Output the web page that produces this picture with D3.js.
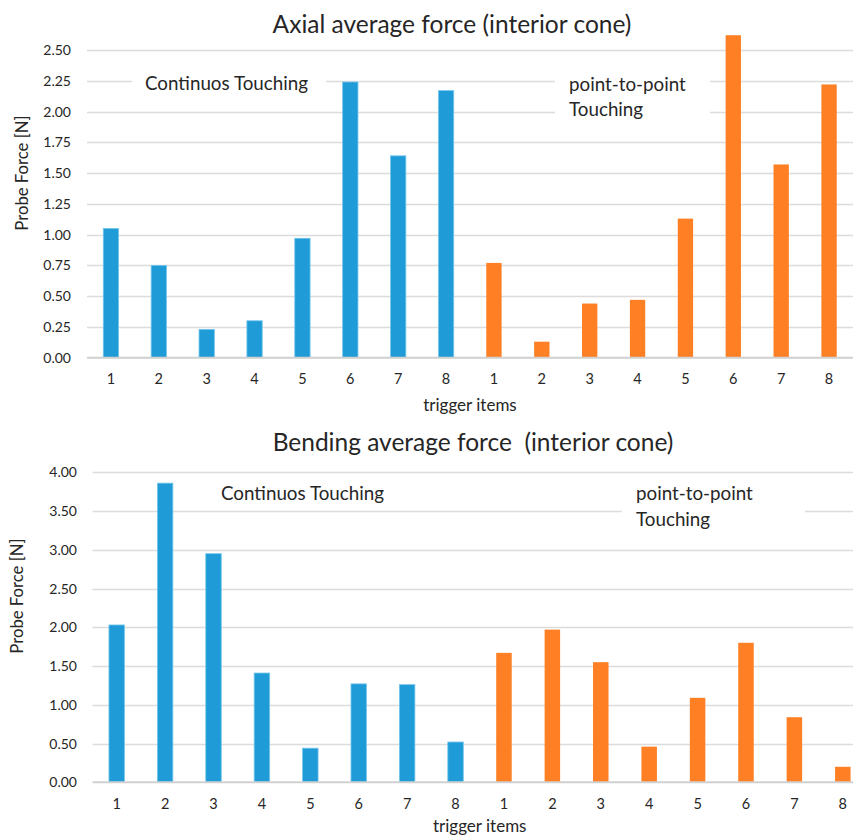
<!DOCTYPE html>
<html>
<head>
<meta charset="utf-8">
<script src="https://cdn.jsdelivr.net/npm/d3@7"></script>
<style>
  html, body { margin: 0; padding: 0; background: #fff; }
  svg text { font-family: Lato, "Open Sans", sans-serif; fill: #262626; white-space: pre; }
</style>
</head>
<body>
<svg id="chart" width="853" height="836"></svg>
<script>
// Trigger items, repeated for the two touching modes
const items = ["1", "2", "3", "4", "5", "6", "7", "8"];

// Axial average force [N]
const axialContinuous = [1.05, 0.75, 0.23, 0.30, 0.97, 2.24, 1.64, 2.17];
const axialPointToPoint = [0.77, 0.13, 0.44, 0.47, 1.13, 2.62, 1.57, 2.22];
const axialTicks = [0, 0.25, 0.5, 0.75, 1.0, 1.25, 1.5, 1.75, 2.0, 2.25, 2.5];

// Bending average force [N]
const bendingContinuous = [2.03, 3.86, 2.95, 1.41, 0.44, 1.27, 1.26, 0.52];
const bendingPointToPoint = [1.67, 1.97, 1.55, 0.46, 1.09, 1.80, 0.84, 0.20];
const bendingTicks = [0, 0.5, 1.0, 1.5, 2.0, 2.5, 3.0, 3.5, 4.0];

const BLUE = "#1f9bd7", BLUE_EDGE = "#74c6ec", ORANGE = "#fe7f24";
const GRID = "#dcdcdc", BASE = "#d0d0d0";

const svg = d3.select("#chart");

function drawPanel(cfg) {
  const g = svg.append("g");
  const rows = [
    ...cfg.continuous.map((v, i) => ({ key: "c" + i, label: items[i], value: v, mode: "c" })),
    ...cfg.pointToPoint.map((v, i) => ({ key: "p" + i, label: items[i], value: v, mode: "p" }))
  ];

  const x = d3.scaleBand()
    .domain(rows.map(d => d.key))
    .range(cfg.xRange)
    .paddingInner(0.68)
    .paddingOuter(0.34);
  const y = d3.scaleLinear().domain([0, cfg.yMax]).range(cfg.yRange);

  // horizontal gridlines
  g.append("g").selectAll("line")
    .data(cfg.ticks.filter(t => t > 0))
    .join("line")
    .attr("x1", cfg.xRange[0]).attr("x2", cfg.xRange[1])
    .attr("y1", d => Math.round(y(d)) + 0.5).attr("y2", d => Math.round(y(d)) + 0.5)
    .attr("stroke", GRID).attr("stroke-width", 1.3);

  // y tick labels
  const yAxis = d3.axisLeft(y).tickValues(cfg.ticks).tickFormat(d3.format(".2f")).tickSize(0).tickPadding(0);
  g.append("g")
    .attr("transform", `translate(${cfg.yLabelX},0)`)
    .call(yAxis)
    .call(a => a.select(".domain").remove())
    .call(a => a.selectAll("text").style("font-size", "14px").attr("fill", "#262626"));

  // annotation boxes (white backing masks the gridlines)
  cfg.notes.forEach(n => {
    g.append("rect")
      .attr("x", n.box[0]).attr("y", n.box[1])
      .attr("width", n.box[2]).attr("height", n.box[3])
      .attr("fill", "#fff");
    const t = g.append("text")
      .attr("x", n.x).attr("y", n.y)
      .style("font-size", "18.8px");
    n.lines.forEach((line, i) => {
      t.append("tspan").attr("x", n.x).attr("dy", i === 0 ? 0 : n.lh).text(line);
    });
  });

  // bars
  g.append("g").selectAll("rect")
    .data(rows)
    .join("rect")
    .attr("x", d => x(d.key))
    .attr("width", x.bandwidth())
    .attr("y", d => y(d.value))
    .attr("height", d => y(0) - y(d.value))
    .attr("fill", d => d.mode === "c" ? BLUE : ORANGE)
    .attr("stroke", d => d.mode === "c" ? BLUE_EDGE : "none")
    .attr("stroke-width", 0.8);

  // baseline
  g.append("line")
    .attr("x1", cfg.xRange[0]).attr("x2", cfg.xRange[1])
    .attr("y1", y(0)).attr("y2", y(0))
    .attr("stroke", BASE).attr("stroke-width", 2);

  // x tick labels
  const xAxis = d3.axisBottom(x).tickFormat(k => rows.find(r => r.key === k).label).tickSize(0).tickPadding(0);
  g.append("g")
    .attr("transform", `translate(0,${cfg.xLabelY})`)
    .call(xAxis)
    .call(a => a.select(".domain").remove())
    .call(a => a.selectAll("text").attr("dy", 0).attr("y", 0).style("font-size", "14.5px").attr("fill", "#262626"));

  // titles
  g.append("text")
    .attr("x", cfg.titleX).attr("y", cfg.titleY)
    .attr("text-anchor", "middle")
    .style("font-size", "24.5px")
    .text(cfg.title);
  g.append("text")
    .attr("x", (cfg.xRange[0] + cfg.xRange[1]) / 2).attr("y", cfg.xTitleY)
    .attr("text-anchor", "middle")
    .style("font-size", "17px")
    .text("trigger items");
  g.append("text")
    .attr("transform", `translate(${cfg.yTitleX},${cfg.yTitleY}) rotate(-90)`)
    .attr("text-anchor", "middle")
    .style("font-size", "16.7px")
    .text("Probe Force [N]");
}

drawPanel({
  title: "Axial average force (interior cone)",
  titleX: 452, titleY: 33,
  continuous: axialContinuous, pointToPoint: axialPointToPoint,
  ticks: axialTicks, yMax: 2.5,
  xRange: [87, 853], yRange: [357.7, 50],
  yLabelX: 71, xLabelY: 384, xTitleY: 411,
  yTitleX: 28, yTitleY: 173,
  notes: [
    { box: [132, 62, 194, 36], x: 145, y: 90, lh: 25, lines: ["Continuos Touching"] },
    { box: [555, 64, 155, 62], x: 569, y: 91, lh: 25, lines: ["point-to-point", "Touching"] }
  ]
});

drawPanel({
  title: "Bending average force  (interior cone)",
  titleX: 473, titleY: 451,
  continuous: bendingContinuous, pointToPoint: bendingPointToPoint,
  ticks: bendingTicks, yMax: 4,
  xRange: [92.5, 867], yRange: [782.3, 472.3],
  yLabelX: 77, xLabelY: 809, xTitleY: 832,
  yTitleX: 23, yTitleY: 596,
  notes: [
    { box: [206, 478, 190, 30], x: 221, y: 500, lh: 26, lines: ["Continuos Touching"] },
    { box: [622, 478, 183, 58], x: 636, y: 500, lh: 26, lines: ["point-to-point", "Touching"] }
  ]
});
</script>
</body>
</html>
